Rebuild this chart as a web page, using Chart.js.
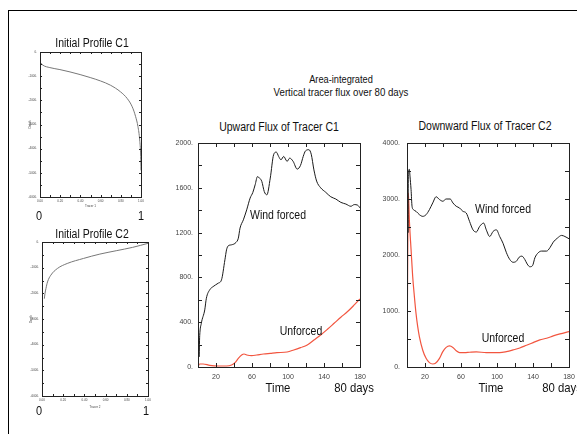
<!DOCTYPE html>
<html>
<head>
<meta charset="utf-8">
<script src="https://cdn.jsdelivr.net/npm/chart.js@4.4.1/dist/chart.umd.min.js"></script>
<style>
  html, body { margin: 0; padding: 0; background: #fff; }
  #fig { position: relative; width: 577px; height: 434px; overflow: hidden; font-family: "Liberation Sans", Arial, sans-serif; }
  #frame { position: absolute; left: 8px; top: 10px; right: -5px; bottom: -5px; border-left: 1px solid #000; border-top: 1px solid #000; }
  .pane { position: absolute; }
  .lbl { position: absolute; white-space: nowrap; color: #111; line-height: 1; transform: translate(-50%, -50%) scaleX(0.84); }
</style>
</head>
<body>
<div id="fig"><div id="frame"></div></div>
<script>
// initial profiles (tracer value vs depth)
const c1Tracer = [0.003, 0.03, 0.097, 0.197, 0.297, 0.397, 0.497, 0.597, 0.697, 0.797, 0.863, 0.913, 0.947, 0.97, 0.987, 0.997, 1.0];
const c1Depth = [-440, -550, -645, -728, -824, -934, -1057, -1195, -1373, -1648, -1922, -2265, -2677, -3089, -3638, -4325, -4900];
const c2Tracer = [0.022, 0.028, 0.037, 0.052, 0.083, 0.145, 0.238, 0.392, 0.546, 0.70, 0.855, 1.0];
const c2Depth = [-2209, -2013, -1817, -1556, -1294, -1033, -837, -640, -471, -340, -209, -52];

// upward flux of tracer C1
const upWindT = [0, 0.7, 1.1, 1.9, 3.7, 7.5, 9.3, 13.1, 16.8, 22.4, 26.1, 29.9, 31.7, 33.6, 37.3, 42.2, 44.8, 46.7, 50.4, 54.1, 57.9, 60.9, 63.5, 66.1, 68.3, 70.9, 73.6, 76.5, 80.3, 84.0, 87.0, 89.6, 92.2, 95.2, 99.0, 101.9, 105.7, 110.2, 113.9, 116.9, 119.5, 123.2, 125.8, 128.8, 131.8, 136.3, 141.9, 147.5, 153.1, 158.7, 164.3, 169.9, 173.6, 177.4, 180];
const upWindV = [40, 260, 90, 280, 390, 510, 614, 690, 718, 748, 778, 957, 1046, 1082, 1091, 1112, 1150, 1240, 1314, 1403, 1508, 1558, 1627, 1700, 1687, 1657, 1567, 1537, 1687, 1895, 1919, 1880, 1850, 1880, 1836, 1865, 1836, 1767, 1800, 1880, 1930, 1940, 1900, 1760, 1660, 1600, 1560, 1520, 1500, 1470, 1455, 1435, 1450, 1445, 1420];
const upCalmT = [0, 1.9, 5.6, 13.1, 22.4, 31.7, 37.3, 41.1, 44.8, 48.5, 51.2, 54.1, 59.7, 65.3, 72.8, 80.3, 87.7, 99, 106.4, 113.9, 121.4, 128.8, 136.3, 143.8, 151.2, 158.7, 166.2, 173.6, 180];
const upCalmV = [5, 27, 27, 15, 9, 9, 18, 39, 77, 107, 116, 107, 101, 107, 116, 122, 128, 134, 152, 173, 197, 241, 286, 337, 390, 444, 495, 554, 608];

// downward flux of tracer C2
const downWindT = [0.4, 0.7, 1.1, 1.5, 2.6, 3.3, 4.5, 5.6, 7.1, 10.0, 13.8, 17.5, 21.2, 24.9, 28.6, 32.4, 36.1, 39.8, 43.5, 48.0, 51.0, 54.7, 58.4, 62.1, 65.8, 69.5, 73.3, 77.0, 80.7, 85.2, 88.1, 91.9, 95.6, 99.3, 103.0, 106.7, 110.5, 114.2, 117.9, 121.6, 124.6, 127.6, 130.9, 133.5, 136.5, 139.5, 142.1, 145.8, 149.5, 155.1, 158.8, 162.5, 167.0, 171.8, 175.5, 180];
const downWindV = [2330, 2630, 2400, 3450, 3530, 3410, 3170, 2870, 2810, 2780, 2720, 2690, 2720, 2810, 2930, 3040, 2990, 2960, 3000, 3000, 2930, 2870, 2840, 2780, 2750, 2600, 2450, 2410, 2510, 2570, 2450, 2330, 2420, 2450, 2330, 2210, 2040, 1920, 1870, 1890, 1960, 1980, 1920, 1840, 1790, 1810, 1950, 2040, 2070, 2070, 2130, 2230, 2300, 2350, 2330, 2290];
const downCalmT = [0, 0.8, 1.5, 2.6, 4.5, 6.3, 8.2, 10.0, 11.9, 13.8, 17.5, 21.2, 24.9, 28.6, 31.6, 36.1, 39.8, 43.5, 47.2, 51.0, 54.7, 58.4, 64.0, 69.5, 77.0, 88.1, 103.0, 110.5, 117.9, 125.3, 132.8, 140.2, 147.6, 155.1, 162.5, 170.0, 180];
const downCalmV = [0, 2000, 3110, 2630, 2100, 1620, 1260, 960, 720, 540, 300, 155, 78, 54, 66, 155, 275, 350, 376, 350, 290, 257, 257, 263, 269, 257, 257, 275, 305, 340, 388, 436, 484, 513, 555, 591, 633];

// tick labels and tick marks
const profXLabels = [0, 0.2, 0.4, 0.6, 0.8, 1.0];
const profXTicks = [0, 0.1, 0.2, 0.3, 0.4, 0.5, 0.6, 0.7, 0.8, 0.9, 1.0];
const profYLabels = [0, -1000, -2000, -3000, -4000, -5000, -6000];
const profYTicks = [0, -500, -1000, -1500, -2000, -2500, -3000, -3500, -4000, -4500, -5000, -5500, -6000];
const timeLabels = [20, 60, 100, 140, 180];
const timeTicks = [0, 20, 40, 60, 80, 100, 120, 140, 160, 180];
const upYLabels = [0, 400, 800, 1200, 1600, 2000];
const upYTicks = [0, 200, 400, 600, 800, 1000, 1200, 1400, 1600, 1800, 2000];
const downYLabels = [0, 1000, 2000, 3000, 4000];
const downYTicks = [0, 500, 1000, 1500, 2000, 2500, 3000, 3500, 4000];

const BLACK = '#1a1a1a';
const RED = '#f2553f';
const GREY = '#777';
const FONT = '"Liberation Sans", Arial, sans-serif';

// box with inward ticks on all four sides
const frameTicks = {
  id: 'frameTicks',
  afterDatasetsDraw(chart, args, o) {
    const { ctx, chartArea: a, scales: { x, y } } = chart;
    ctx.save();
    ctx.strokeStyle = '#222';
    ctx.lineWidth = 1;
    ctx.strokeRect(a.left + 0.5, a.top + 0.5, a.right - a.left, a.bottom - a.top);
    ctx.beginPath();
    o.xTicks.forEach(v => {
      const px = Math.round(x.getPixelForValue(v)) + 0.5;
      ctx.moveTo(px, a.bottom); ctx.lineTo(px, a.bottom - o.len);
      ctx.moveTo(px, a.top); ctx.lineTo(px, a.top + o.len);
    });
    o.yTicks.forEach(v => {
      const py = Math.round(y.getPixelForValue(v)) + 0.5;
      ctx.moveTo(a.left, py); ctx.lineTo(a.left + o.len, py);
      ctx.moveTo(a.right, py); ctx.lineTo(a.right - o.len, py);
    });
    ctx.stroke();
    ctx.restore();
  }
};

const fig = document.getElementById('fig');

// no extra room for label overhang, so the plot box lands where asked
function noOverhang(s) {
  s.paddingTop = 0; s.paddingBottom = 0; s.paddingLeft = 0; s.paddingRight = 0;
}

function makePanel(p) {
  const [l, t, r, b] = p.rect;
  const m = p.margin;
  const w = r - l + m.l + m.r, h = b - t + m.t + m.b;
  const box = document.createElement('div');
  box.className = 'pane';
  box.style.left = (l - m.l) + 'px';
  box.style.top = (t - m.t) + 'px';
  const cv = document.createElement('canvas');
  cv.width = w; cv.height = h;
  cv.style.width = w + 'px'; cv.style.height = h + 'px';
  box.appendChild(cv);
  fig.appendChild(box);

  new Chart(cv, {
    type: 'line',
    data: {
      datasets: p.series.map(s => ({
        data: s.x.map((x, i) => ({ x: x, y: s.y[i] })),
        borderColor: s.color,
        borderWidth: s.width,
        pointRadius: 0,
        fill: false,
        cubicInterpolationMode: 'monotone'
      }))
    },
    options: {
      responsive: false,
      animation: false,
      devicePixelRatio: 1,
      layout: { padding: { top: m.t, right: m.r, left: 0, bottom: 0 } },
      plugins: {
        legend: { display: false },
        tooltip: { enabled: false },
        frameTicks: { xTicks: p.xTicks, yTicks: p.yTicks, len: p.tickLen }
      },
      scales: {
        x: {
          type: 'linear', min: p.xMin, max: p.xMax,
          grid: { display: false, drawTicks: false },
          border: { display: false },
          ticks: { font: { family: FONT, size: p.fontSize }, color: '#444', padding: p.xPad, maxRotation: 0, autoSkip: false, callback: p.xFmt },
          title: { display: !!p.xTitle, text: p.xTitle, font: { family: FONT, size: p.fontSize }, color: '#444', padding: 0 },
          afterBuildTicks: s => { s.ticks = p.xLabels.map(v => ({ value: v })); },
          afterFit: s => { s.height = m.b; noOverhang(s); }
        },
        y: {
          type: 'linear', min: p.yMin, max: p.yMax,
          grid: { display: false, drawTicks: false },
          border: { display: false },
          ticks: { font: { family: FONT, size: p.fontSize }, color: '#444', padding: p.yPad, autoSkip: false, callback: p.yFmt },
          title: { display: !!p.yTitle, text: p.yTitle, font: { family: FONT, size: p.fontSize }, color: '#444', padding: 0 },
          afterBuildTicks: s => { s.ticks = p.yLabels.map(v => ({ value: v })); },
          afterFit: s => { s.width = m.l; noOverhang(s); }
        }
      }
    },
    plugins: [frameTicks]
  });
}

const dot = v => v + '.';
const fix2 = v => v.toFixed(2);

makePanel({
  rect: [40, 52, 141, 197], margin: { l: 12, t: 4, r: 5, b: 11 },
  xMin: 0, xMax: 1, yMin: -6000, yMax: 0,
  xLabels: profXLabels, xTicks: profXTicks, yLabels: profYLabels, yTicks: profYTicks,
  xFmt: fix2, yFmt: dot, xTitle: 'Tracer 1', yTitle: 'Depth',
  fontSize: 3, xPad: 2, yPad: 3, tickLen: 2,
  series: [{ x: c1Tracer, y: c1Depth, color: GREY, width: 1 }]
});

makePanel({
  rect: [42, 242, 148, 396], margin: { l: 13, t: 4, r: 5, b: 13 },
  xMin: 0, xMax: 1, yMin: -6000, yMax: 0,
  xLabels: profXLabels, xTicks: profXTicks, yLabels: profYLabels, yTicks: profYTicks,
  xFmt: fix2, yFmt: dot, xTitle: 'Tracer 2', yTitle: 'Depth',
  fontSize: 3, xPad: 2, yPad: 3, tickLen: 2,
  series: [{ x: c2Tracer, y: c2Depth, color: GREY, width: 1 }]
});

makePanel({
  rect: [198, 143, 360, 367], margin: { l: 36, t: 6, r: 10, b: 16 },
  xMin: 0, xMax: 180, yMin: 0, yMax: 2000,
  xLabels: timeLabels, xTicks: timeTicks, yLabels: upYLabels, yTicks: upYTicks,
  xFmt: v => String(v), yFmt: dot,
  fontSize: 7, xPad: 6, yPad: 5, tickLen: 4,
  series: [
    { x: upWindT, y: upWindV, color: BLACK, width: 1 },
    { x: upCalmT, y: upCalmV, color: RED, width: 1.2 }
  ]
});

makePanel({
  rect: [407, 143, 569, 367], margin: { l: 36, t: 6, r: 8, b: 16 },
  xMin: 0, xMax: 180, yMin: 0, yMax: 4000,
  xLabels: timeLabels, xTicks: timeTicks, yLabels: downYLabels, yTicks: downYTicks,
  xFmt: v => String(v), yFmt: dot,
  fontSize: 7, xPad: 6, yPad: 7, tickLen: 4,
  series: [
    { x: downWindT, y: downWindV, color: BLACK, width: 1 },
    { x: downCalmT, y: downCalmV, color: RED, width: 1.2 }
  ]
});

// figure texts: [text, centre x, centre y, font size]
const texts = [
  ['Initial Profile C1', 92, 43, 12.5],
  ['Initial Profile C2', 92, 234, 12.5],
  ['0', 39, 215, 13],
  ['1', 141, 215, 13],
  ['0', 39, 410, 13],
  ['1', 146, 410, 13],
  ['Area-integrated', 341, 79, 11],
  ['Vertical tracer flux over 80 days', 341, 93, 11.5],
  ['Upward Flux of Tracer C1', 279, 127, 12.5],
  ['Downward Flux of Tracer C2', 485, 126, 12.5],
  ['Wind forced', 278, 215, 12.5],
  ['Unforced', 301, 331, 12.5],
  ['Wind forced', 503, 209, 12.5],
  ['Unforced', 503, 338, 12.5],
  ['Time', 278, 388, 13.5],
  ['80 days', 354, 388, 13.5],
  ['Time', 491, 388, 13.5],
  ['80 days', 562, 388, 13.5]
];
texts.forEach(([s, x, y, size]) => {
  const d = document.createElement('div');
  d.className = 'lbl';
  d.textContent = s;
  d.style.left = x + 'px';
  d.style.top = y + 'px';
  d.style.fontSize = size + 'px';
  fig.appendChild(d);
});
</script>
</body>
</html>
